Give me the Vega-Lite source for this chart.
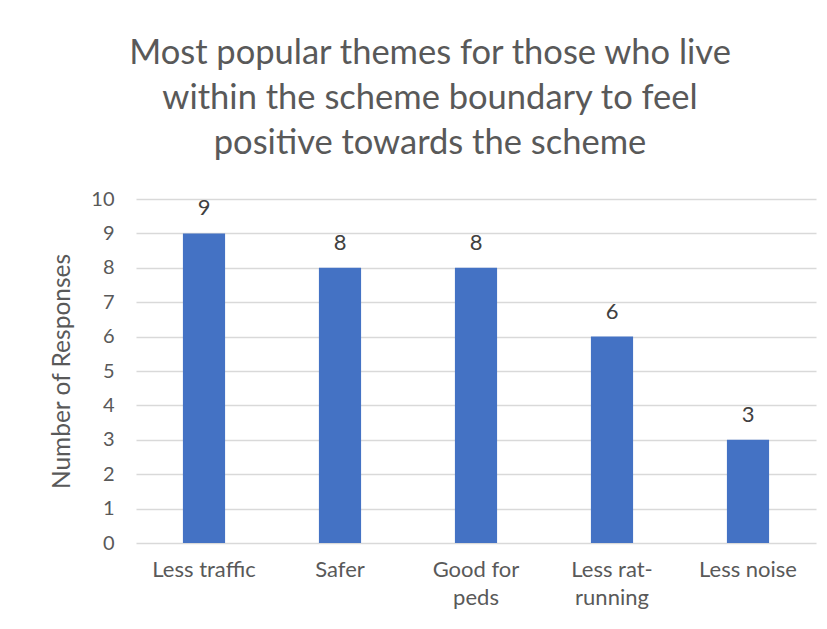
{
  "$schema": "https://vega.github.io/schema/vega-lite/v6.json",
  "width": 680,
  "height": 344,
  "autosize": {"type": "none"},
  "padding": {"left": 136, "top": 199, "right": 11, "bottom": 86},
  "background": "white",
  "config": {
    "font": "Lato",
    "view": {"stroke": null},
    "axis": {"labelColor": "#595959", "titleColor": "#595959", "labelFont": "Lato", "titleFont": "Lato"}
  },
  "title": {
    "text": ["Most popular themes for those who live", "within the scheme boundary to feel", "positive towards the scheme"],
    "fontSize": 34.5,
    "fontWeight": "normal",
    "color": "#595959",
    "lineHeight": 45,
    "anchor": "middle",
    "dx": -46,
    "offset": 28
  },
  "data": {
    "values": [
      {"theme": "Less traffic", "responses": 9},
      {"theme": "Safer", "responses": 8},
      {"theme": "Good for peds", "responses": 8},
      {"theme": "Less rat-running", "responses": 6},
      {"theme": "Less noise", "responses": 3}
    ]
  },
  "encoding": {
    "x": {
      "field": "theme",
      "type": "nominal",
      "sort": null,
      "scale": {"paddingInner": 0.69, "paddingOuter": 0.345},
      "axis": {
        "title": null,
        "labelAngle": 0,
        "domain": false,
        "ticks": false,
        "labelFontSize": 22,
        "labelPadding": 16,
        "labelLineHeight": 28,
        "labelExpr": "datum.label == 'Good for peds' ? ['Good for', 'peds'] : datum.label == 'Less rat-running' ? ['Less rat-', 'running'] : datum.label"
      }
    },
    "y": {
      "field": "responses",
      "type": "quantitative",
      "scale": {"domain": [0, 10]},
      "axis": {
        "title": "Number of Responses",
        "titleFontSize": 24.5,
        "titleFontWeight": "normal",
        "titlePadding": 16,
        "labelFontSize": 20,
        "labelPadding": 22,
        "labelOverlap": false,
        "values": [0,1,2,3,4,5,6,7,8,9,10],
        "domain": false,
        "ticks": false,
        "gridColor": "#d9d9d9",
        "gridWidth": 1.5
      }
    }
  },
  "layer": [
    {"mark": {"type": "bar", "color": "#4472C4"}},
    {
      "mark": {"type": "text", "fontSize": 22, "color": "#404040", "baseline": "alphabetic", "dy": -18},
      "encoding": {"text": {"field": "responses", "type": "quantitative"}}
    }
  ]
}
